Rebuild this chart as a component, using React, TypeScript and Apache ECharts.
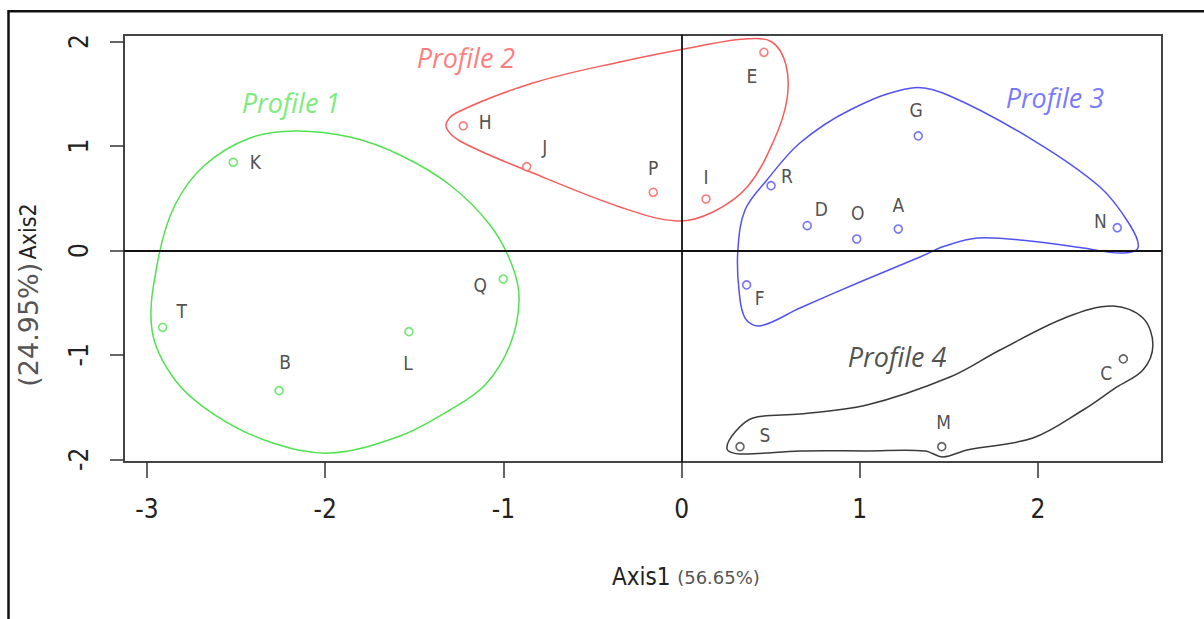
import React, { useEffect, useRef } from "react";
import * as echarts from "echarts";

// ---- axis ticks ----
const xTicks = [-3, -2, -1, 0, 1, 2];
const yTicks = [-2, -1, 0, 1, 2];

// ---- points per profile ----
const p1Names = ["K", "T", "B", "L", "Q"];
const p1X = [-2.516, -2.912, -2.259, -1.53, -1.001];
const p1Y = [0.845, -0.736, -1.343, -0.778, -0.273];

const p2Names = ["H", "J", "P", "I", "E"];
const p2X = [-1.225, -0.869, -0.159, 0.137, 0.462];
const p2Y = [1.193, 0.803, 0.557, 0.493, 1.898];

const p3Names = ["G", "R", "D", "O", "A", "N", "F"];
const p3X = [1.328, 0.502, 0.705, 0.983, 1.216, 2.445, 0.365];
const p3Y = [1.097, 0.621, 0.238, 0.11, 0.206, 0.218, -0.33];

const p4Names = ["C", "M", "S"];
const p4X = [2.479, 1.46, 0.328];
const p4Y = [-1.039, -1.879, -1.879];

// ---- hand-drawn outlines (data units) ----
const hull1X = [-2.972, -2.938, -2.843, -2.675, -2.422, -2.169, -1.861, -1.58, -1.3, -1.075, -0.952, -0.912, -0.963, -1.103, -1.3, -1.58, -1.973, -2.31, -2.618, -2.843];
const hull1Y = [-0.761, -0.091, 0.436, 0.819, 1.078, 1.145, 1.087, 0.915, 0.627, 0.244, -0.139, -0.474, -0.905, -1.288, -1.528, -1.777, -1.94, -1.834, -1.576, -1.24];

const hull2X = [-1.322, -1.266, -0.834, -0.346, 0.103, 0.356, 0.507, 0.586, 0.591, 0.519, 0.373, 0.176, -0.026, -0.346, -0.834, -1.244];
const hull2Y = [1.193, 1.317, 1.604, 1.806, 1.959, 2.026, 1.997, 1.777, 1.442, 1.058, 0.618, 0.369, 0.283, 0.417, 0.742, 1.049];

const hull3X = [0.316, 0.356, 0.479, 0.664, 0.945, 1.293, 1.506, 1.972, 2.348, 2.516, 2.561, 2.46, 2.253, 1.955, 1.663, 1.478, 1.338, 1.001, 0.664, 0.44, 0.356, 0.322];
const hull3Y = [0.005, 0.388, 0.675, 1.03, 1.346, 1.557, 1.48, 1.058, 0.608, 0.244, 0.024, -0.024, 0.024, 0.091, 0.12, 0.043, -0.062, -0.302, -0.551, -0.723, -0.647, -0.378];

const hull4X = [0.255, 0.3, 0.401, 0.664, 1.04, 1.506, 1.787, 2.163, 2.421, 2.589, 2.645, 2.589, 2.443, 2.253, 1.972, 1.602, 1.467, 1.366, 1.04, 0.664, 0.328];
const hull4Y = [-1.901, -1.739, -1.604, -1.566, -1.48, -1.212, -0.953, -0.637, -0.532, -0.647, -0.905, -1.145, -1.307, -1.528, -1.796, -1.911, -1.978, -1.92, -1.92, -1.92, -1.949];

// ---- profile titles ----
const profileTitles = ["Profile 1", "Profile 2", "Profile 3", "Profile 4"];
const profileTitleX = [-2.192, -1.21, 2.095, 1.209];
const profileTitleY = [1.422, 1.844, 1.47, -1.02];

// ---- styling ----
const colors = ["#4fe24f", "#f75c5c", "#5252f4", "#3a3a3a"];
const titleColors = ["#55e855", "#ff5a5a", "#5555ff", "#222222"];
const labelOffsets: Record<string, [number, number]> = {
  K: [22, 0], T: [19, -16], B: [6, -29], L: [-1, 31], Q: [-23, 6],
  H: [22, -4], J: [18, -20], P: [0, -24], I: [0, -22], E: [-12, 24],
  R: [16, -10], G: [-2, -26], D: [14, -17], O: [1, -26], A: [0, -24], N: [-17, -7], F: [13, 13],
  S: [25, -12], M: [2, -25], C: [-17, 14],
};
const narrow = "'Liberation Sans Narrow', 'DejaVu Sans Condensed', sans-serif";

const groups = [
  { names: p1Names, x: p1X, y: p1Y, hx: hull1X, hy: hull1Y },
  { names: p2Names, x: p2X, y: p2Y, hx: hull2X, hy: hull2Y },
  { names: p3Names, x: p3X, y: p3Y, hx: hull3X, hy: hull3Y },
  { names: p4Names, x: p4X, y: p4Y, hx: hull4X, hy: hull4Y },
];

export default function App() {
  const ref = useRef<HTMLDivElement>(null);
  useEffect(() => {
    if (!ref.current) return;
    const chart = echarts.init(ref.current, undefined, { renderer: "svg" });
    const series: any[] = [];
    groups.forEach((g, gi) => {
      series.push({
        type: "custom",
        coordinateSystem: "cartesian2d",
        silent: true,
        z: 2,
        data: g.hx.map((x, i) => [x, g.hy[i]]),
        renderItem: (params: any, api: any) => {
          if (params.dataIndex !== 0) return null;
          const pts = g.hx.map((x, i) => api.coord([x, g.hy[i]]));
          return {
            type: "polygon",
            shape: { points: pts, smooth: 0.35 },
            style: { fill: "none", stroke: colors[gi], lineWidth: 1.5 },
          };
        },
      });
      series.push({
        type: "scatter",
        z: 4,
        symbol: "circle",
        symbolSize: 8,
        itemStyle: { color: "#ffffff", borderColor: colors[gi], borderWidth: 1.6 },
        label: {
          show: true,
          position: "inside",
          formatter: (p: any) => p.name,
          fontFamily: narrow,
          fontSize: 19,
          color: "#222",
          align: "center",
          verticalAlign: "middle",
        },
        data: g.names.map((n, i) => ({
          name: n,
          value: [g.x[i], g.y[i]],
          label: { offset: labelOffsets[n] },
        })),
        markLine:
          gi === 0
            ? {
                silent: true,
                symbol: "none",
                label: { show: false },
                lineStyle: { color: "#111", width: 1.8, type: "solid" },
                data: [{ xAxis: 0 }, { yAxis: 0 }],
              }
            : undefined,
      });
    });
    series.push({
      type: "scatter",
      z: 5,
      symbolSize: 0,
      silent: true,
      label: {
        show: true,
        position: "inside",
        formatter: (p: any) => p.name,
        fontFamily: "'Open Sans', sans-serif",
        fontStyle: "italic",
        fontSize: 27,
        color: "#000",
      },
      data: profileTitles.map((t, i) => ({
        name: t,
        value: [profileTitleX[i], profileTitleY[i]],
        label: { color: titleColors[i] },
      })),
    });

    chart.setOption({
      animation: false,
      backgroundColor: "#ffffff",
      grid: {
        left: 124,
        top: 35,
        right: 42,
        bottom: 157,
        show: true,
        borderColor: "#444",
        borderWidth: 2,
        backgroundColor: "transparent",
      },
      xAxis: {
        type: "value",
        min: -3.129,
        max: 2.696,
        axisLine: { show: false, onZero: false },
        splitLine: { show: false },
        axisTick: { show: true, customValues: xTicks, length: 16, lineStyle: { color: "#333", width: 1.5 } },
        axisLabel: {
          customValues: xTicks,
          fontFamily: narrow,
          fontSize: 26,
          color: "#222",
          margin: 34,
        },
      },
      yAxis: {
        type: "value",
        min: -2.026,
        max: 2.064,
        axisLine: { show: false, onZero: false },
        splitLine: { show: false },
        axisTick: { show: true, customValues: yTicks, length: 14, lineStyle: { color: "#333", width: 1.5 } },
        axisLabel: {
          customValues: yTicks,
          rotate: 90,
          fontFamily: narrow,
          fontSize: 26,
          color: "#222",
          margin: 32,
        },
      },
      graphic: [
        {
          type: "rect",
          silent: true,
          z: 100,
          shape: { x: 8.5, y: 11.3, width: 1400, height: 800 },
          style: { fill: "none", stroke: "#111", lineWidth: 2.5 },
        },
        {
          type: "text",
          left: 612,
          top: 565,
          style: {
            text: "{a|Axis1}  {b|(56.65%)}",
            rich: {
              a: { fontFamily: narrow, fontSize: 24, fill: "#222" },
              b: { fontFamily: "'DejaVu Sans', sans-serif", fontSize: 18, fill: "#555" },
            },
          },
        },
        {
          type: "text",
          x: 28,
          y: 295,
          rotation: Math.PI / 2,
          style: {
            text: "{b|(24.95%)} {a|Axis2}",
            align: "center",
            verticalAlign: "middle",
            rich: {
              a: { fontFamily: narrow, fontSize: 23, fill: "#222" },
              b: { fontFamily: "'DejaVu Sans', sans-serif", fontSize: 27, fill: "#555" },
            },
          },
        },
      ],
      series,
    });
    return () => chart.dispose();
  }, []);
  return (
    <div
      ref={ref}
      style={{ position: "absolute", left: 0, top: 0, width: 1204, height: 619 }}
    />
  );
}
